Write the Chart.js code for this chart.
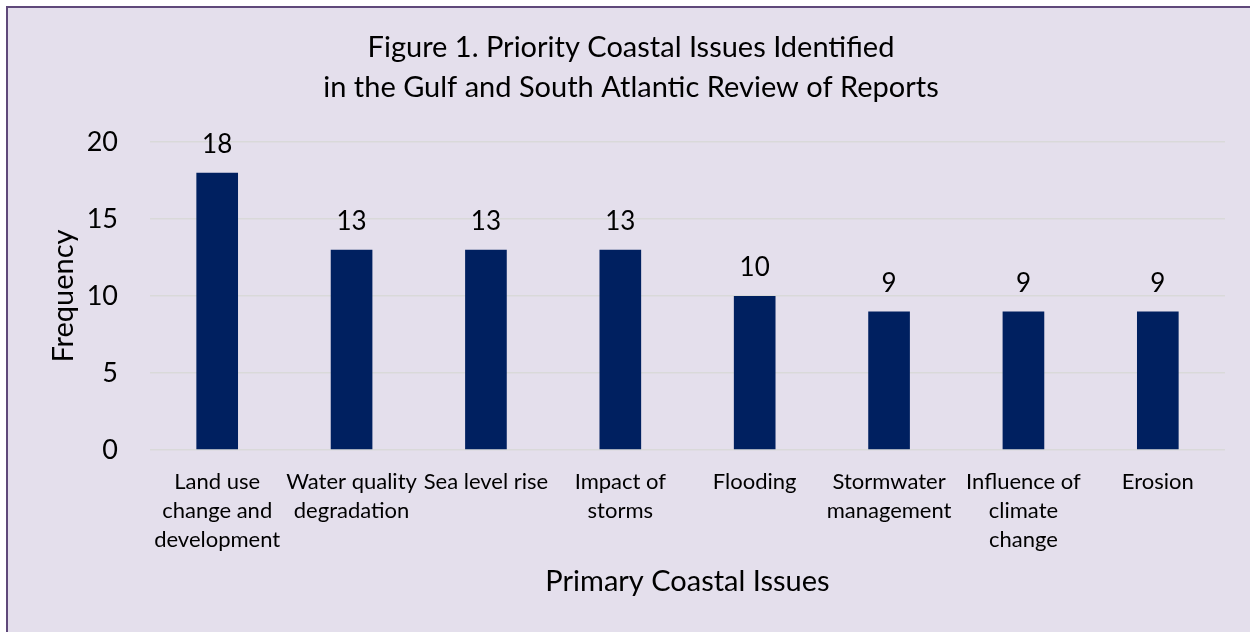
<!DOCTYPE html>
<html>
<head>
<meta charset="utf-8">
<script src="https://cdn.jsdelivr.net/npm/chart.js@4"></script>
<style>
  html, body { margin: 0; padding: 0; background: #ffffff; overflow: hidden; }
  #frame {
    position: absolute; left: 6px; top: 6px;
    width: 1242px; height: 624px;
    border-left: 2px solid #5f497a; border-top: 2px solid #5f497a;
    background: #e4dfec;
  }
</style>
</head>
<body>
<div id="frame"><canvas id="issueChart" width="1242" height="624"></canvas></div>
<script>
// chart values
const issues = [
    ["Land use", "change and", "development"],
    ["Water quality", "degradation"],
    ["Sea level rise"],
    ["Impact of", "storms"],
    ["Flooding"],
    ["Stormwater", "management"],
    ["Influence of", "climate", "change"],
    ["Erosion"]
];
const frequency = [18, 13, 13, 13, 10, 9, 9, 9];
const yTicks = [0, 5, 10, 15, 20];

const fontName = "Lato, 'Open Sans', sans-serif";

// numbers above the bars
const barLabels = {
    id: "barLabels",
    afterDatasetsDraw(chart) {
        const ctx = chart.ctx;
        ctx.save();
        ctx.font = "26px " + fontName;
        ctx.fillStyle = "#000000";
        ctx.textAlign = "center";
        ctx.textBaseline = "middle";
        chart.getDatasetMeta(0).data.forEach((bar, i) => {
            ctx.fillText(String(frequency[i]), bar.x, bar.y - 28);
        });
        ctx.restore();
    }
};

const issueData = {
    labels: issues,
    datasets: [
        {
            label: "Frequency",
            backgroundColor: "#002060",
            data: frequency,
            categoryPercentage: 1,
            barPercentage: 0.31
        }
    ]
};

const issueConfig = {
    type: "bar",
    data: issueData,
    plugins: [barLabels],
    options: {
        responsive: false,
        animation: false,
        layout: { padding: { left: 29, right: 25, top: 0, bottom: 0 } },
        plugins: {
            legend: { display: false },
            tooltip: { enabled: false },
            title: {
                display: true,
                text: ["Figure 1. Priority Coastal Issues Identified", "in the Gulf and South Atlantic Review of Reports"],
                color: "#000000",
                font: { family: fontName, size: 29, weight: "normal", lineHeight: 1.38 },
                padding: { top: 20, bottom: 34 }
            }
        },
        scales: {
            y: {
                min: 0,
                max: 20,
                afterBuildTicks(scale) {
                    scale.ticks = yTicks.map(v => ({ value: v }));
                },
                afterFit(scale) { scale.width = 113; },
                grid: { color: "#d9d9d9", lineWidth: 1.5, drawTicks: false },
                border: { display: false },
                ticks: {
                    color: "#000000",
                    padding: 32,
                    font: { family: fontName, size: 27 }
                },
                title: {
                    display: true,
                    text: "Frequency",
                    color: "#000000",
                    font: { family: fontName, size: 29, lineHeight: 1.2 },
                    padding: { top: 9, bottom: 0 }
                }
            },
            x: {
                afterFit(scale) { scale.height = 182; },
                grid: { display: false, drawTicks: false },
                border: { display: false },
                ticks: {
                    color: "#000000",
                    autoSkip: false,
                    maxRotation: 0,
                    padding: 17,
                    font: { family: fontName, size: 22, lineHeight: 1.33 }
                },
                title: {
                    display: true,
                    text: "Primary Coastal Issues",
                    color: "#000000",
                    font: { family: fontName, size: 29, lineHeight: 1.2 },
                    padding: { top: 0, bottom: 33 }
                }
            }
        }
    }
};

const issueChart = new Chart(document.getElementById("issueChart"), issueConfig);
</script>
</body>
</html>
